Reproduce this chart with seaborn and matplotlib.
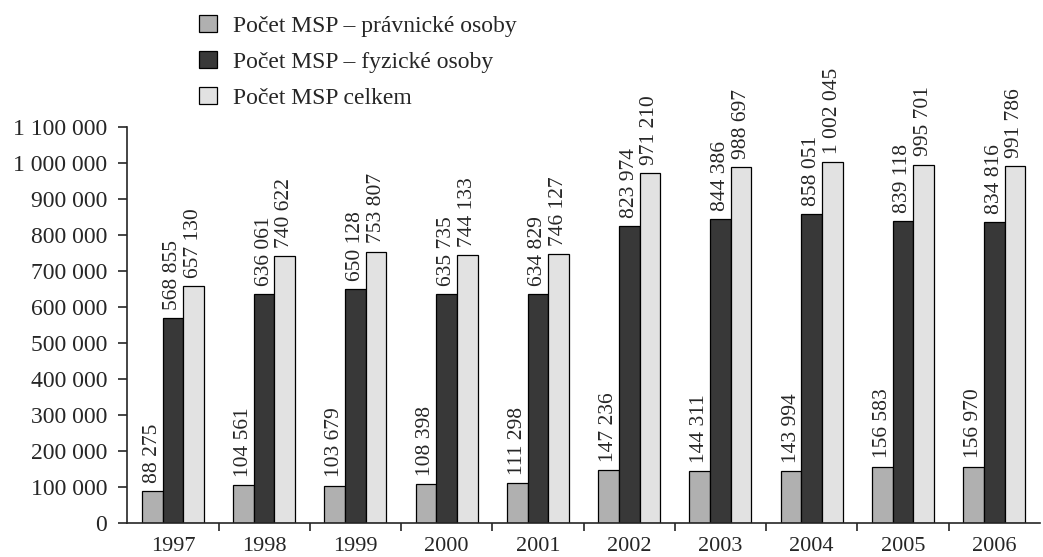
import pandas as pd
import matplotlib.pyplot as plt
import seaborn as sns
from matplotlib.patches import Patch

years = ["1997", "1998", "1999", "2000", "2001", "2002", "2003", "2004", "2005", "2006"]
pravnicke = [88275, 104561, 103679, 108398, 111298, 147236, 144311, 143994, 156583, 156970]
fyzicke = [568855, 636061, 650128, 635735, 634829, 823974, 844386, 858051, 839118, 834816]
celkem = [657130, 740622, 753807, 744133, 746127, 971210, 988697, 1002045, 995701, 991786]
series = ["Počet MSP – právnické osoby", "Počet MSP – fyzické osoby", "Počet MSP celkem"]
colors = ["#b0b0b0", "#383838", "#e2e2e2"]
y_ticks = list(range(0, 1100001, 100000))

sns.set_style("ticks")
plt.rcParams["font.family"] = ["Liberation Serif", "DejaVu Serif"]

df = pd.DataFrame({
    "rok": years * 3,
    "serie": [series[0]] * 10 + [series[1]] * 10 + [series[2]] * 10,
    "pocet": pravnicke + fyzicke + celkem,
})

fig = plt.figure(figsize=(10.43, 5.57), dpi=100)
ax = fig.add_axes([0.122, 0.061, 0.875, 0.711])

sns.barplot(data=df, x="rok", y="pocet", hue="serie", hue_order=series,
            palette=colors, width=0.68, edgecolor="black", linewidth=0.9,
            saturation=1, ax=ax, legend=False)

# popisky hodnot nad sloupci
for cont in ax.containers:
    for bar in cont:
        v = bar.get_height()
        ax.annotate(f"{int(round(v)):,}".replace(",", " "),
                    (bar.get_x() + bar.get_width() / 2, v),
                    xytext=(0, 6), textcoords="offset points",
                    rotation=90, ha="center", va="bottom",
                    fontsize=15.5, annotation_clip=False)

ax.set_ylim(0, 1100000)
ax.set_yticks(y_ticks)
ax.set_yticklabels([f"{t:,}".replace(",", " ") for t in y_ticks], fontsize=17)
ax.set_xlim(-0.5, 9.5)
ax.set_xticks(range(len(years)))
ax.set_xticklabels(years, fontsize=16)
ax.set_xticks([i + 0.5 for i in range(len(years) - 1)], minor=True)
ax.tick_params(axis="x", which="major", length=0, pad=10)
ax.tick_params(axis="x", which="minor", length=6, width=1.2, direction="out")
ax.tick_params(axis="y", length=6.5, width=1.2, pad=8)
ax.set_xlabel("")
ax.set_ylabel("")
for side in ["top", "right"]:
    ax.spines[side].set_visible(False)
ax.spines["left"].set_linewidth(1.2)
ax.spines["bottom"].set_linewidth(1.2)

handles = [Patch(facecolor=c, edgecolor="black", linewidth=0.9) for c in colors]
fig.legend(handles, series, loc="upper left", bbox_to_anchor=(0.17, 1.012),
           frameon=False, fontsize=17, handlelength=0.76, handleheight=0.76,
           handletextpad=0.7, labelspacing=0.6)

fig.savefig("out.png", dpi=100)
